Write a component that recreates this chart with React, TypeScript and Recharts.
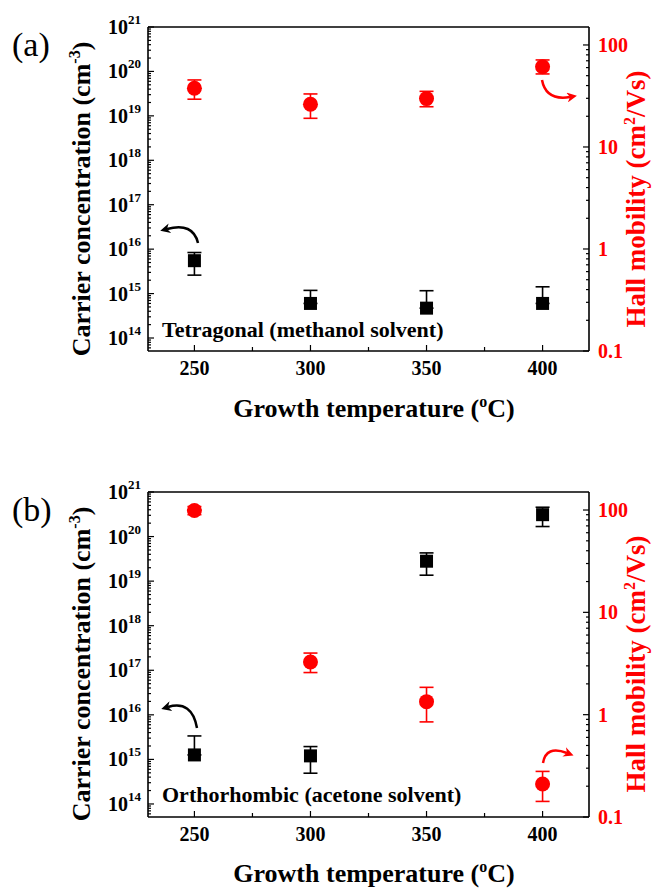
import { ScatterChart, Scatter, XAxis, YAxis, ErrorBar, ReferenceLine } from 'recharts';

const FONT = '"Liberation Serif", "Times New Roman", serif';
const RED = '#ff0000';

// growth temperature (°C)
const temps = [250, 300, 350, 400];
const tempTicks = [250, 275, 300, 325, 350, 375, 400];

// (a) tetragonal, methanol solvent
const carrierA = [5.5e15, 6.0e14, 4.7e14, 6.0e14];
const carrierAErrLow = [2.9e15, 0, 0, 0];
const carrierAErrHigh = [2.9e15, 5.8e14, 6.9e14, 8.2e14];
const mobilityA = [37.7, 26.2, 29.8, 61.2];
const mobilityAErrLow = [8.3, 7.1, 5.0, 9.2];
const mobilityAErrHigh = [7.7, 6.9, 5.3, 10.1];

// (b) orthorhombic, acetone solvent
const carrierB = [1.26e15, 1.2e15, 2.8e19, 3.1e20];
const carrierBErrLow = [0, 0.71e15, 1.44e19, 1.42e20];
const carrierBErrHigh = [2.1e15, 0.74e15, 1.5e19, 1.45e20];
const mobilityB = [99, 3.27, 1.34, 0.21];
const mobilityBErrLow = [9, 0.69, 0.49, 0.068];
const mobilityBErrHigh = [9, 0.73, 0.51, 0.069];

const carrierDecades = [1e14, 1e15, 1e16, 1e17, 1e18, 1e19, 1e20, 1e21];
const mobilityDecades = [0.1, 1, 10, 100];
const mantissas = [2, 3, 4, 5, 6, 7, 8, 9];

const carrierTicks = [6e13, 7e13, 8e13, 9e13].concat(
  ...carrierDecades.map((d) => (d < 1e21 ? [d, ...mantissas.map((m) => m * d)] : [d]))
);
const mobilityTicks = ([] as number[]).concat(
  ...mobilityDecades.map((d) => (d < 100 ? [d, ...mantissas.map((m) => +(m * d).toPrecision(3))] : [d]))
);

const carrierDomain = [5.1e13, 1e21];
const mobilityDomain = [0.1, 150];

const isDecade = (v: number) => {
  const e = Math.log10(v);
  return Math.abs(e - Math.round(e)) < 1e-6;
};

function LeftTick(props: any) {
  const { x, y, payload } = props;
  const v = payload.value;
  const major = isDecade(v);
  return (
    <g>
      <line x1={x} x2={x + (major ? 6 : 3)} y1={y} y2={y} stroke="#000" strokeWidth={1.2} />
      {major && (
        <text x={x - 7} y={y + 7} textAnchor="end" fontFamily={FONT} fontWeight="bold" fontSize={20} fill="#000">
          10<tspan dy={-10} fontSize={13}>{Math.round(Math.log10(v))}</tspan>
        </text>
      )}
    </g>
  );
}

function RightTick(props: any) {
  const { x, y, payload } = props;
  const v = payload.value;
  const major = isDecade(v);
  return (
    <g>
      <line x1={x} x2={x - (major ? 6 : 3)} y1={y} y2={y} stroke="#000" strokeWidth={1.2} />
      {major && (
        <text x={x + 9} y={y + 7} textAnchor="start" fontFamily={FONT} fontWeight="bold" fontSize={20} fill={RED}>
          {String(v)}
        </text>
      )}
    </g>
  );
}

function BottomTick(props: any) {
  const { x, y, payload } = props;
  const v = payload.value;
  const major = v % 50 === 0;
  return (
    <g>
      <line x1={x} x2={x} y1={y} y2={y - (major ? 6 : 4)} stroke="#000" strokeWidth={1.2} />
      {major && (
        <text x={x} y={y + 24} textAnchor="middle" fontFamily={FONT} fontWeight="bold" fontSize={20} fill="#000">
          {v}
        </text>
      )}
    </g>
  );
}

const Square = (p: any) => <rect x={p.cx - 6.5} y={p.cy - 6.5} width={13} height={13} fill="#000" />;
const Dot = (p: any) => <circle cx={p.cx} cy={p.cy} r={7.5} fill={RED} />;

type PanelProps = {
  carrier: number[];
  carrierLow: number[];
  carrierHigh: number[];
  mobility: number[];
  mobilityLow: number[];
  mobilityHigh: number[];
  top: number;
  bottom: number;
};

function Panel(p: PanelProps) {
  const nData = temps.map((t, i) => ({ t, n: p.carrier[i], err: [p.carrierLow[i], p.carrierHigh[i]] }));
  const muData = temps.map((t, i) => ({ t, mu: p.mobility[i], err: [p.mobilityLow[i], p.mobilityHigh[i]] }));
  return (
    <ScatterChart width={652} height={444} margin={{ top: p.top, right: 0, bottom: p.bottom, left: 88 }}>
      <XAxis
        dataKey="t"
        type="number"
        domain={[230, 420]}
        ticks={tempTicks}
        interval={0}
        tickSize={0}
        tickMargin={0}
        tickLine={false}
        tick={<BottomTick />}
        height={40}
        axisLine={{ stroke: '#000', strokeWidth: 1.6 }}
      />
      <YAxis
        yAxisId="n"
        dataKey="n"
        type="number"
        scale="log"
        domain={carrierDomain}
        allowDataOverflow
        ticks={carrierTicks}
        interval={0}
        tickSize={0}
        tickMargin={0}
        tickLine={false}
        tick={<LeftTick />}
        width={60}
        axisLine={{ stroke: '#000', strokeWidth: 1.6 }}
      />
      <YAxis
        yAxisId="mu"
        dataKey="mu"
        orientation="right"
        type="number"
        scale="log"
        domain={mobilityDomain}
        allowDataOverflow
        ticks={mobilityTicks}
        interval={0}
        tickSize={0}
        tickMargin={0}
        tickLine={false}
        tick={<RightTick />}
        width={63}
        axisLine={{ stroke: '#000', strokeWidth: 1.6 }}
      />
      <ReferenceLine yAxisId="n" y={1e21} stroke="#000" strokeWidth={1.6} />
      <Scatter yAxisId="n" data={nData} shape={Square} isAnimationActive={false}>
        <ErrorBar dataKey="err" direction="y" width={7} stroke="#000" strokeWidth={1.6} isAnimationActive={false} />
      </Scatter>
      <Scatter yAxisId="mu" data={muData} shape={Dot} isAnimationActive={false}>
        <ErrorBar dataKey="err" direction="y" width={7} stroke={RED} strokeWidth={1.6} isAnimationActive={false} />
      </Scatter>
    </ScatterChart>
  );
}

function Titles({ dy, label, note }: { dy: number; label: string; note: string }) {
  return (
    <g fontFamily={FONT}>
      <text x={12} y={56 + dy} fontSize={34}>{label}</text>
      <text
        x={90}
        y={199 + dy}
        transform={`rotate(-90, 90, ${199 + dy})`}
        textAnchor="middle"
        fontSize={26}
        fontWeight="bold"
      >
        Carrier concentration (cm<tspan dy={-10} fontSize={16}>-3</tspan>
        <tspan dy={10}>)</tspan>
      </text>
      <text
        x={645}
        y={199 + dy}
        transform={`rotate(-90, 645, ${199 + dy})`}
        textAnchor="middle"
        fontSize={27}
        fontWeight="bold"
        fill={RED}
      >
        Hall mobility (cm<tspan dy={-10} fontSize={16}>2</tspan>
        <tspan dy={10}>/Vs)</tspan>
      </text>
      <text x={374} y={417 + dy} textAnchor="middle" fontSize={26} fontWeight="bold">
        Growth temperature (<tspan dy={-10} fontSize={16}>o</tspan>
        <tspan dy={10}>C)</tspan>
      </text>
      <text x={162} y={337 + dy} fontSize={22} fontWeight="bold">{note}</text>
    </g>
  );
}

export default function App() {
  return (
    <div style={{ position: 'absolute', left: 0, top: 0, width: 652, height: 888, background: '#fff', overflow: 'hidden' }}>
      <div style={{ position: 'absolute', left: 0, top: 0 }}>
        <Panel
          carrier={carrierA}
          carrierLow={carrierAErrLow}
          carrierHigh={carrierAErrHigh}
          mobility={mobilityA}
          mobilityLow={mobilityAErrLow}
          mobilityHigh={mobilityAErrHigh}
          top={27}
          bottom={53}
        />
      </div>
      <div style={{ position: 'absolute', left: 0, top: 444 }}>
        <Panel
          carrier={carrierB}
          carrierLow={carrierBErrLow}
          carrierHigh={carrierBErrHigh}
          mobility={mobilityB}
          mobilityLow={mobilityBErrLow}
          mobilityHigh={mobilityBErrHigh}
          top={48}
          bottom={31}
        />
      </div>
      <svg width={652} height={888} style={{ position: 'absolute', left: 0, top: 0, pointerEvents: 'none' }}>
        <defs>
          <marker id="headK" viewBox="0 0 10 10" refX={3} refY={5} markerUnits="userSpaceOnUse" markerWidth={12} markerHeight={10} orient="auto">
            <path d="M0,0 L10,5 L0,10 L3,5 z" fill="#000" />
          </marker>
          <marker id="headR" viewBox="0 0 10 10" refX={3} refY={5} markerUnits="userSpaceOnUse" markerWidth={12} markerHeight={10} orient="auto">
            <path d="M0,0 L10,5 L0,10 L3,5 z" fill={RED} />
          </marker>
        </defs>
        <Titles dy={0} label="(a)" note="Tetragonal (methanol solvent)" />
        <Titles dy={465} label="(b)" note="Orthorhombic (acetone solvent)" />
        <g fill="none" strokeWidth={2.5}>
          <path d="M198,243 Q193,222 167,229" stroke="#000" markerEnd="url(#headK)" />
          <path d="M542,80 Q546,101 570,97" stroke={RED} markerEnd="url(#headR)" />
          <path d="M197,728 Q192,700 168,707" stroke="#000" markerEnd="url(#headK)" />
          <path d="M543,763 Q546,745 567,753" stroke={RED} markerEnd="url(#headR)" />
        </g>
      </svg>
    </div>
  );
}
